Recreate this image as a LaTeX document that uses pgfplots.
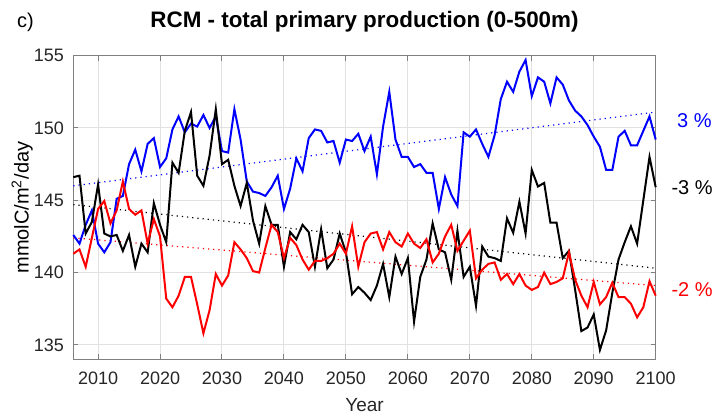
\documentclass[border=0pt]{standalone}
\usepackage{pgfplots}
\pgfplotsset{compat=1.18}
\usepackage{pgfplotstable}
\usepackage{fontspec}
\setmainfont{Liberation Sans}

\definecolor{axgray}{RGB}{128,128,128}
\definecolor{txtgray}{RGB}{38,38,38}
\definecolor{gridgray}{RGB}{225,225,225}

% year, blue, black, red
\pgfplotstableread{
year blue black red
2006 142.6 146.6 141.3
2007 142.0 146.7 141.6
2008 143.3 142.7 140.4
2009 144.3 143.5 142.4
2010 142.0 146.1 144.4
2011 141.4 142.7 144.95
2012 142.1 142.5 143.4
2013 145.1 142.6 144.3
2014 145.3 141.5 146.3
2015 147.5 142.6 144.4
2016 148.5 140.4 144.0
2017 147.0 142.0 144.3
2018 148.9 141.4 142.0
2019 149.3 144.8 143.7
2020 147.3 143.3 142.5
2021 147.9 142.1 138.2
2022 149.9 147.6 137.6
2023 150.8 146.9 138.4
2024 149.7 149.8 139.7
2025 150.3 151.1 139.7
2026 150.1 146.7 137.8
2027 150.9 146.0 135.8
2028 150.0 148.1 137.4
2029 150.8 151.3 139.9
2030 148.4 147.5 139.1
2031 148.3 147.8 139.8
2032 151.3 146.0 142.1
2033 149.2 144.6 141.6
2034 146.3 146.2 141.0
2035 145.6 143.6 140.1
2036 145.5 142.0 140.0
2037 145.3 144.6 141.7
2038 145.9 143.3 143.3
2039 146.7 143.3 142.8
2040 144.4 140.4 141.0
2041 145.8 142.8 142.4
2042 147.9 142.3 141.9
2043 147.0 143.3 140.9
2044 149.3 142.8 140.2
2045 149.9 140.4 140.8
2046 149.8 143.0 140.8
2047 149.0 140.3 141.0
2048 149.1 140.9 141.3
2049 147.6 142.7 142.0
2050 149.2 141.4 141.3
2051 149.1 138.5 143.2
2052 149.6 139.0 140.4
2053 148.4 138.6 142.1
2054 149.4 138.1 142.7
2055 146.8 139.1 142.8
2056 150.1 140.6 141.6
2057 152.5 138.3 142.8
2058 149.2 141.1 142.1
2059 148.0 139.9 141.8
2060 148.0 141.0 142.7
2061 147.3 136.6 142.0
2062 147.5 139.7 141.7
2063 146.9 140.9 142.3
2064 146.9 143.4 140.7
2065 144.4 141.6 141.3
2066 146.6 141.4 142.5
2067 145.4 139.5 143.3
2068 144.6 142.9 141.5
2069 149.7 139.7 142.2
2070 149.4 140.4 142.9
2071 149.9 137.7 139.6
2072 148.9 141.8 140.2
2073 148.0 141.1 140.6
2074 149.5 141.0 140.7
2075 152.0 140.8 139.5
2076 153.2 143.75 139.9
2077 152.5 142.75 139.2
2078 153.9 144.9 139.9
2079 154.7 142.7 139.1
2080 152.2 147.1 138.8
2081 153.5 145.95 139.0
2082 153.2 146.2 140.0
2083 151.7 143.45 139.2
2084 153.5 143.45 139.35
2085 153.0 141.0 139.6
2086 151.9 141.5 141.4
2087 151.2 138.8 139.5
2088 150.8 135.95 138.4
2089 150.2 136.2 137.6
2090 149.4 137.1 139.35
2091 148.7 134.65 137.8
2092 147.1 136.0 138.3
2093 147.1 138.6 139.3
2094 149.4 140.9 138.3
2095 149.8 142.1 138.3
2096 148.8 143.2 137.85
2097 148.8 142.0 136.9
2098 149.8 145.0 137.6
2099 150.8 148.0 139.4
2100 149.2 145.9 138.4
}\pptable

\begin{document}
\begin{tikzpicture}
\begin{axis}[
name=ax,
scale only axis,
width=291.2pt,
height=151.8pt,
xmin=2006, xmax=2100,
ymin=134, ymax=155,
xtick={2010,2020,...,2100},
ytick={135,140,...,155},
/pgf/number format/assume math mode=true,
/pgf/number format/1000 sep={},
tick align=inside,
major tick length=2.5pt,
xtick pos=both, ytick pos=both,
grid=major,
grid style={gridgray, line width=0.5pt},
axis line style={axgray, line width=0.6pt},
every tick/.style={axgray, line width=0.5pt},
tick label style={font=\fontsize{9}{10}\selectfont, text=txtgray},
xticklabel style={yshift=-3pt},
yticklabel style={xshift=-1.2pt},
xlabel={Year},
xlabel style={font=\fontsize{9.5}{11}\selectfont, text=txtgray, yshift=0pt},
ylabel={mmolC/m\textsuperscript{2}/day},
ylabel style={font=\fontsize{9.5}{11}\selectfont, text=txtgray},
every axis y label/.style={at={(axis description cs:0,0.5)}, xshift=-25.6pt, rotate=90, anchor=center},
clip=false,
]
\addplot[blue, dotted, line width=0.6pt] coordinates {(2006,146.0) (2100,151.1)};
\addplot[black, dotted, line width=0.6pt] coordinates {(2006,144.7) (2100,140.3)};
\addplot[red, dotted, line width=0.6pt] coordinates {(2006,142.4) (2100,139.1)};
\addplot[blue, line width=1pt] table[x=year, y=blue] {\pptable};
\addplot[black, line width=1pt] table[x=year, y=black] {\pptable};
\addplot[red, line width=1pt] table[x=year, y=red] {\pptable};
\node[anchor=west, text=blue, font=\fontsize{10}{11}\selectfont, inner sep=0pt] at (axis cs:2103.4,150.5) {3 \%};
\node[anchor=west, text=black, font=\fontsize{10}{11}\selectfont, inner sep=0pt] at (axis cs:2102.5,145.9) {-3 \%};
\node[anchor=west, text=red, font=\fontsize{10}{11}\selectfont, inner sep=0pt] at (axis cs:2102.5,138.8) {-2 \%};
\end{axis}
\node[anchor=base, font=\bfseries\fontsize{11.2}{12}\selectfont, inner sep=0pt] at ([yshift=14.2pt]ax.north) {RCM - total primary production (0-500m)};
\node[anchor=base west, font=\fontsize{10}{11}\selectfont, inner sep=0pt] at ([xshift=-28.3pt, yshift=14.2pt]ax.north west) {c)};
\pgfresetboundingbox
\useasboundingbox ([xshift=-36.65pt, yshift=-28.85pt]ax.south west) rectangle ([xshift=320.85pt, yshift=179.65pt]ax.south west);
\end{tikzpicture}
\end{document}
